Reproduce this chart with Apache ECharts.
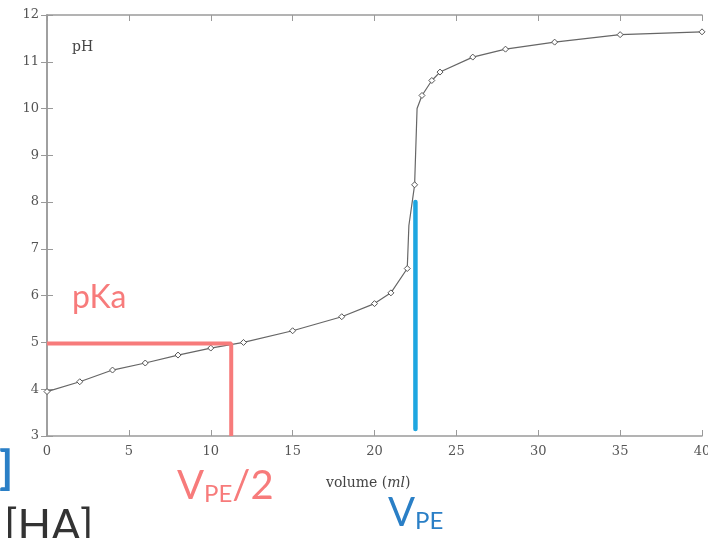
<!DOCTYPE html>
<html>
<head>
<meta charset="utf-8">
<script src="https://cdn.jsdelivr.net/npm/echarts@6/dist/echarts.min.js"></script>
<style>
  html, body { margin: 0; padding: 0; background: #fff; }
  #chart { width: 708px; height: 538px; }
</style>
</head>
<body>
<div id="chart"></div>
<script>
// titration curve: volume (ml) and pH
const volume = [0, 2, 4, 6, 8, 10, 12, 15, 18, 20, 21, 22, 22.1, 22.45, 22.6, 22.9, 23.5, 24, 26, 28, 31, 35, 40]
const ph = [3.95, 4.16, 4.41, 4.56, 4.73, 4.88, 5.0, 5.25, 5.55, 5.83, 6.06, 6.58, 7.5, 8.37, 10.0, 10.28, 10.6, 10.78, 11.1, 11.27, 11.42, 11.58, 11.64]
// points with a marker drawn on them
const marked = [0, 2, 4, 6, 8, 10, 12, 15, 18, 20, 21, 22, 22.45, 22.9, 23.5, 24, 26, 28, 31, 35, 40]
const xTicks = [0, 5, 10, 15, 20, 25, 30, 35, 40]
const yTicks = [3, 4, 5, 6, 7, 8, 9, 10, 11, 12]
// guide lines
const pKa = 4.98
const halfVpe = 11.25
const vpe = 22.5
const vpeTop = 8

const serif = '"DejaVu Serif", "Liberation Serif", serif'
const sans = 'Lato, "Open Sans", sans-serif'
const axisGrey = '#9a9a9a'
const red = '#f77b7b'
const blue = '#1ea6e0'
const textBlue = '#2a7fc6'

const curve = volume.map((v, i) => ({
  value: [v, ph[i]],
  symbol: marked.indexOf(v) >= 0 ? 'diamond' : 'none'
}))

const myChart = echarts.init(document.getElementById('chart'))
myChart.setOption({
  animation: false,
  grid: { left: 47, right: 6, top: 15, bottom: 102, outerBoundsMode: 'none' },
  xAxis: [
    {
      type: 'value', min: 0, max: 40, interval: 5,
      axisLine: { lineStyle: { color: axisGrey, width: 1.5 } },
      axisTick: { inside: true, length: 6, lineStyle: { color: axisGrey } },
      axisLabel: { margin: 9, fontFamily: serif, fontSize: 13, color: '#555' },
      splitLine: { show: false }
    },
    {
      type: 'value', position: 'top', min: 0, max: 40, interval: 5,
      axisLine: { lineStyle: { color: axisGrey, width: 1.5 } },
      axisTick: { inside: true, length: 6, lineStyle: { color: axisGrey } },
      axisLabel: { show: false },
      splitLine: { show: false }
    }
  ],
  yAxis: [
    {
      type: 'value', min: 3, max: 12, interval: 1,
      axisLine: { show: true, lineStyle: { color: axisGrey, width: 1.5 } },
      axisTick: { show: true, inside: true, length: 6, lineStyle: { color: axisGrey } },
      axisLabel: { margin: 8, fontFamily: serif, fontSize: 13, color: '#555' },
      splitLine: { show: false }
    },
    {
      type: 'value', position: 'right', min: 3, max: 12, interval: 1,
      axisLine: { show: true, lineStyle: { color: axisGrey, width: 1.5 } },
      axisTick: { show: true, inside: true, length: 6, lineStyle: { color: axisGrey } },
      axisLabel: { show: false },
      splitLine: { show: false }
    }
  ],
  series: [
    {
      name: 'pH',
      type: 'line',
      data: curve,
      symbolSize: 6,
      itemStyle: { color: '#fff', borderColor: '#555', borderWidth: 1 },
      lineStyle: { color: '#666', width: 1.2 },
      z: 3
    },
    {
      name: 'pKa',
      type: 'line',
      data: [[0, pKa], [halfVpe, pKa], [halfVpe, 3]],
      symbol: 'none',
      lineStyle: { color: red, width: 4 },
      z: 4
    },
    {
      name: 'Vpe',
      type: 'line',
      data: [[vpe, 3.15], [vpe, vpeTop]],
      symbol: 'none',
      lineStyle: { color: blue, width: 4.5, cap: 'round' },
      z: 4
    }
  ],
  graphic: [
    { type: 'text', left: 72, top: 40, style: { text: 'pH', font: '14px ' + serif, fill: '#444' } },
    {
      type: 'text', left: 326, top: 476,
      style: {
        text: '{a|volume (}{b|ml}{a|)}',
        rich: {
          a: { font: '14px ' + serif, fill: '#444' },
          b: { font: 'italic 14px ' + serif, fill: '#444' }
        }
      }
    },
    { type: 'text', left: 72, top: 282, style: { text: 'pKa', font: '32px ' + sans, fill: red } },
    {
      type: 'text', left: 177, top: 466,
      style: {
        text: '{v|V}{s|PE}{v|/2}',
        rich: {
          v: { font: '40px ' + sans, fill: red },
          s: { font: '24px ' + sans, fill: red, verticalAlign: 'bottom', padding: [16, 0, 0, 0] }
        }
      }
    },
    {
      type: 'text', left: 388, top: 493,
      style: {
        text: '{v|V}{s|PE}',
        rich: {
          v: { font: '40px ' + sans, fill: textBlue },
          s: { font: '24px ' + sans, fill: textBlue, verticalAlign: 'bottom', padding: [16, 0, 0, 0] }
        }
      }
    },
    { type: 'text', left: -1, top: 446, style: { text: ']', font: 'bold 46px ' + sans, fill: textBlue } },
    { type: 'text', left: 4, top: 505, style: { text: '[HA]', font: '44px ' + sans, fill: '#333' } }
  ]
})
</script>
</body>
</html>
